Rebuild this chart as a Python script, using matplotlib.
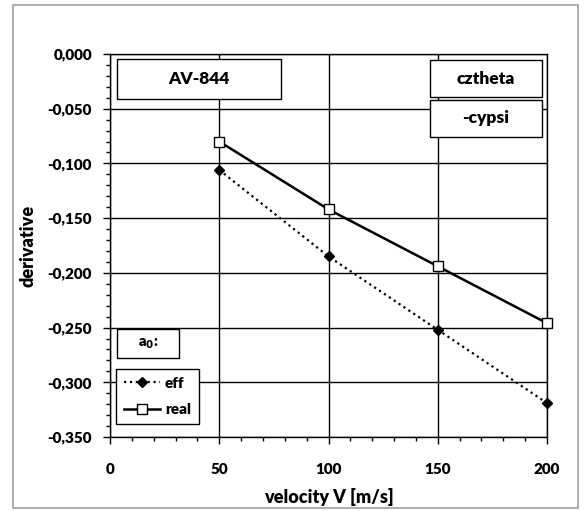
import matplotlib
matplotlib.use('Agg')
import matplotlib.pyplot as plt
from matplotlib.ticker import MultipleLocator, FuncFormatter
from matplotlib.patches import Rectangle

plt.rcParams['font.family'] = ['Lato', 'DejaVu Sans']
plt.rcParams['font.weight'] = 'bold'

velocity = [50, 100, 150, 200]
eff = [-0.106, -0.185, -0.252, -0.319]
real = [-0.080, -0.142, -0.194, -0.246]

fig = plt.figure(figsize=(5.87, 5.11), dpi=100)
W, H = 587, 511
ax = fig.add_axes([110 / W, 1 - 437 / H, (547 - 110) / W, (437 - 54) / H])

# рамка вокруг всей диаграммы
fig.patches.append(Rectangle((13 / W, 1 - 508 / H), (578 - 13) / W, (508 - 5) / H,
                             transform=fig.transFigure, fill=False, edgecolor='#a0a0a0', lw=1.2))

ax.plot(velocity, eff, color='black', ls=':', lw=1.6, marker='D', ms=5.5,
        mfc='black', mec='black', label='eff', zorder=3, clip_on=False)
ax.plot(velocity, real, color='black', ls='-', lw=1.8, marker='s', ms=7.5,
        mfc='white', mec='black', mew=1.0, label='real', zorder=3, clip_on=False)

ax.set_xlim(0, 200)
ax.set_ylim(-0.35, 0)
ax.xaxis.set_major_locator(MultipleLocator(50))
ax.xaxis.set_minor_locator(MultipleLocator(10))
ax.yaxis.set_major_locator(MultipleLocator(0.05))
ax.yaxis.set_minor_locator(MultipleLocator(0.01))
ax.yaxis.set_major_formatter(FuncFormatter(lambda v, p: f'{v:.3f}'.replace('.', ',').replace('-0,000', '0,000')))
ax.grid(which='major', color='black', lw=1.0)
ax.set_axisbelow(True)
ax.tick_params(which='major', direction='out', length=5, width=1.0, labelsize=11, pad=8)
ax.tick_params(which='minor', direction='out', length=3, width=1.0)
ax.tick_params(axis='x', pad=14)
for lbl in ax.get_xticklabels() + ax.get_yticklabels():
    lbl.set_fontweight('heavy')
for s in ax.spines.values():
    s.set_linewidth(1.0)
    s.set_color('black')

ax.set_xlabel('velocity V [m/s]', fontsize=13, fontweight='heavy', labelpad=8)
ax.set_ylabel('derivative', fontsize=13, fontweight='heavy', labelpad=8)

def label_box(x0, y0, x1, y1, text, size=12.5):
    fig.patches.append(Rectangle((x0 / W, 1 - y1 / H), (x1 - x0) / W, (y1 - y0) / H,
                                 transform=fig.transFigure, facecolor='white',
                                 edgecolor='black', lw=1.0, zorder=5))
    fig.text((x0 + x1) / 2 / W, 1 - (y0 + y1) / 2 / H, text, ha='center', va='center',
             fontsize=size, fontweight='heavy', zorder=6)

label_box(117, 59, 281, 99, 'AV-844')
label_box(430, 60, 542, 97, 'cztheta')
label_box(430, 100, 542, 137, '-cypsi')
label_box(117, 329, 179, 358, r'a$_\mathbf{0}$:', size=10.5)

leg = ax.legend(loc='upper left', bbox_to_anchor=(6 / 437, 1 - (369 - 54) / 383),
                prop={'size': 11, 'weight': 'heavy'}, frameon=True, fancybox=False,
                edgecolor='black', framealpha=1, handlelength=2.4, handletextpad=0.3,
                borderpad=0.5, labelspacing=0.9, borderaxespad=0)
leg.get_frame().set_linewidth(1.0)
leg.set_zorder(7)

fig.savefig('out.png', dpi=100)
